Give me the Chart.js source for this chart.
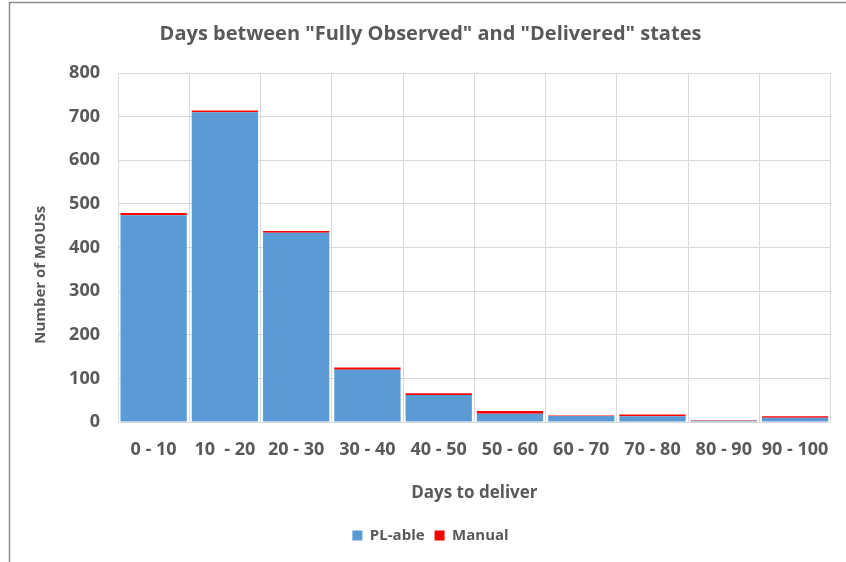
<!DOCTYPE html>
<html>
<head>
<meta charset="utf-8">
<script src="https://cdn.jsdelivr.net/npm/chart.js@4.4.0/dist/chart.umd.min.js"></script>
<style>
  html, body { margin: 0; padding: 0; background: #fff; }
  #wrap { width: 846px; height: 562px; }
</style>
</head>
<body>
<div id="wrap"><canvas id="chart" width="846" height="562"></canvas></div>
<script>
const categories = ["0 - 10", "10  - 20", "20 - 30", "30 - 40", "40 - 50",
  "50 - 60", "60 - 70", "70 - 80", "80 - 90", "90 - 100"];
const plAble = [474, 710, 434, 120, 62, 19, 14, 13, 3, 10];
const manual = [5, 4, 4, 5, 4, 6, 1, 4, 1, 3];
const yTicks = [0, 100, 200, 300, 400, 500, 600, 700, 800];

const textColor = "#595959";
const gridColor = "#D9D9D9";
const fontFamily = "'Open Sans', Lato, sans-serif";

// thin frame left/top like the screenshot crop
const framePlugin = {
  id: "frame",
  beforeDraw(chart) {
    const ctx = chart.ctx;
    ctx.save();
    ctx.fillStyle = "#fff";
    ctx.fillRect(0, 0, chart.width, chart.height);
    ctx.strokeStyle = "#8c8c8c";
    ctx.lineWidth = 1.5;
    ctx.beginPath();
    ctx.moveTo(9.5, chart.height);
    ctx.lineTo(9.5, 2.5);
    ctx.lineTo(chart.width, 2.5);
    ctx.stroke();
    ctx.restore();
  },
};

new Chart(document.getElementById("chart"), {
  type: "bar",
  data: {
    labels: categories,
    datasets: [
      {
        label: "PL-able",
        data: plAble,
        backgroundColor: "#5B9BD5",
        barPercentage: 0.93,
        categoryPercentage: 1,
      },
      {
        label: "Manual",
        data: manual,
        backgroundColor: "#FF0000",
        barPercentage: 0.93,
        categoryPercentage: 1,
      },
    ],
  },
  options: {
    responsive: false,
    animation: false,
    layout: { padding: { left: 28, right: 13, top: 0, bottom: 9 } },
    plugins: {
      title: {
        display: true,
        text: 'Days between "Fully Observed" and "Delivered" states',
        color: textColor,
        font: { family: fontFamily, size: 20, weight: "bold" },
        padding: { top: 22, bottom: 27 },
      },
      legend: {
        position: "bottom",
        labels: {
          color: textColor,
          font: { family: fontFamily, size: 15, weight: "bold" },
          boxWidth: 10,
          boxHeight: 10,
          padding: 10,
        },
      },
      tooltip: { enabled: false },
    },
    scales: {
      x: {
        stacked: true,
        grid: { color: gridColor, offset: true, drawTicks: false },
        border: { display: false },
        ticks: {
          color: textColor,
          font: { family: fontFamily, size: 18, weight: "bold" },
          padding: 17,
          maxRotation: 0,
        },
        title: {
          display: true,
          text: "Days to deliver",
          color: textColor,
          font: { family: fontFamily, size: 17, weight: "bold" },
          padding: { top: 0, bottom: 15 },
        },
        afterFit(scale) { scale.height = 96; },
      },
      y: {
        stacked: true,
        min: 0,
        max: 800,
        afterBuildTicks(scale) { scale.ticks = yTicks.map((v) => ({ value: v })); },
        grid: { color: gridColor, drawTicks: false },
        border: { display: false },
        ticks: {
          color: textColor,
          font: { family: fontFamily, size: 18, weight: "bold" },
          padding: 18,
        },
        title: {
          display: true,
          // trailing spaces push the rotated label down, as in the original
          text: "Number of MOUSs              ",
          color: textColor,
          font: { family: fontFamily, size: 15, weight: "bold" },
          padding: { top: 4, bottom: 0 },
        },
        afterFit(scale) { scale.width = 90; },
      },
    },
  },
  plugins: [framePlugin],
});
</script>
</body>
</html>
